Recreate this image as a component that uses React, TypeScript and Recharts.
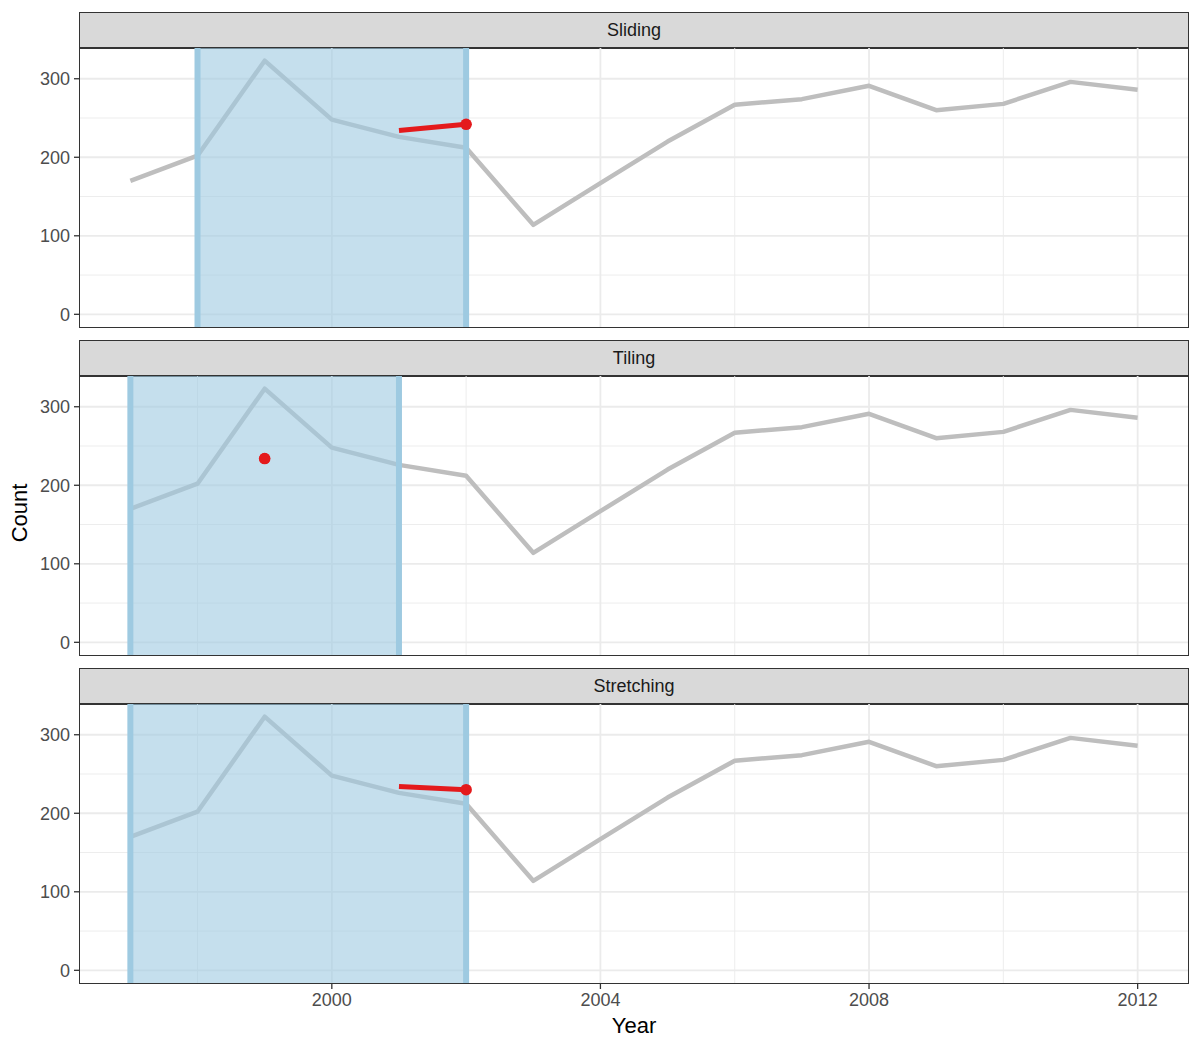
import React from 'react';
import { ComposedChart, Line, XAxis, YAxis, ReferenceLine, ReferenceArea } from 'recharts';

// Yearly counts (same baseline series in every facet)
const years = [1997, 1998, 1999, 2000, 2001, 2002, 2003, 2004, 2005, 2006, 2007, 2008, 2009, 2010, 2011, 2012];
const counts = [170, 202, 323, 248, 226, 212, 114, 167, 220, 267, 274, 291, 260, 268, 296, 286];

// Facet names and the highlighted window for each
const facetNames = ['Sliding', 'Tiling', 'Stretching'];
const windowStart = [1998, 1997, 1997];
const windowEnd = [2002, 2001, 2002];

// Red forecast segments and end points per facet
const slidingRedYears = [2001, 2002];
const slidingRedCounts = [234, 242];
const tilingRedYears = [1999];
const tilingRedCounts = [234];
const stretchingRedYears = [2001, 2002];
const stretchingRedCounts = [234, 230];

// Axis ticks and grid breaks
const xMajor = [2000, 2004, 2008, 2012];
const xMinor = [1998, 2002, 2006, 2010];
const yMajor = [0, 100, 200, 300];
const yMinor = [50, 150, 250];

const baseData = years.map((year, i) => ({ year, count: counts[i] }));
const toRows = (ys: number[], cs: number[]) => ys.map((year, i) => ({ year, count: cs[i] }));
const redRows = [
  toRows(slidingRedYears, slidingRedCounts),
  toRows(tilingRedYears, tilingRedCounts),
  toRows(stretchingRedYears, stretchingRedCounts),
];

// ggplot-style 5% expansion
const xMin = Math.min(...years);
const xMax = Math.max(...years);
const xPad = (xMax - xMin) * 0.05;
const yLo = 0;
const yHi = Math.max(...counts);
const yPad = (yHi - yLo) * 0.05;
const xDomain: [number, number] = [xMin - xPad, xMax + xPad];
const yDomain: [number, number] = [yLo - yPad, yHi + yPad];

const FONT = '"Liberation Sans", Arial, Helvetica, sans-serif';
const GRAY = '#bebebe';
const RED = '#e41a1c';
const BLUE = '#9ecae1';
const GRID = '#ebebeb';

const PANEL_LEFT = 80;
const PANEL_W = 1108;
const PANEL_H = 279;
const STRIP_H = 36;
const FIRST_TOP = 48;
const STEP = 328;
const X_AXIS_H = 44;

function Facet({ index }: { index: number }) {
  const last = index === facetNames.length - 1;
  const top = FIRST_TOP + STEP * index;
  const red = redRows[index];
  const endPoint = red.slice(-1);
  return (
    <>
      <div
        style={{
          position: 'absolute',
          left: PANEL_LEFT - 1,
          top: top - STRIP_H,
          width: PANEL_W + 2,
          height: STRIP_H + 1,
          boxSizing: 'border-box',
          background: '#d9d9d9',
          border: '1.3px solid #333333',
          display: 'flex',
          alignItems: 'center',
          justifyContent: 'center',
          fontFamily: FONT,
          fontSize: 18,
          color: '#1a1a1a',
        }}
      >
        {facetNames[index]}
      </div>
      <div style={{ position: 'absolute', left: 0, top }}>
        <ComposedChart
          width={1200}
          height={PANEL_H + (last ? X_AXIS_H : 0)}
          data={baseData}
          margin={{ top: 0, right: 1200 - PANEL_LEFT - PANEL_W, bottom: 0, left: 0 }}
          style={{ fontFamily: FONT }}
        >
          <XAxis
            dataKey="year"
            type="number"
            domain={xDomain}
            ticks={xMajor}
            allowDataOverflow
            hide={!last}
            height={X_AXIS_H}
            axisLine={false}
            tickLine={{ stroke: '#333333', strokeWidth: 1.3 }}
            tickSize={6}
            tickMargin={4}
            tick={{ fill: '#4d4d4d', fontSize: 18, fontFamily: FONT }}
          />
          <YAxis
            type="number"
            domain={yDomain}
            ticks={yMajor}
            allowDataOverflow
            width={PANEL_LEFT}
            axisLine={false}
            tickLine={{ stroke: '#333333', strokeWidth: 1.3 }}
            tickSize={6}
            tickMargin={4}
            tick={{ fill: '#4d4d4d', fontSize: 18, fontFamily: FONT }}
          />
          {yMinor.map((v) => (
            <ReferenceLine key={'ym' + v} y={v} stroke={GRID} strokeWidth={0.9} zIndex={-100} />
          ))}
          {xMinor.map((v) => (
            <ReferenceLine key={'xm' + v} x={v} stroke={GRID} strokeWidth={0.9} zIndex={-100} />
          ))}
          {yMajor.map((v) => (
            <ReferenceLine key={'yM' + v} y={v} stroke={GRID} strokeWidth={1.8} zIndex={-90} />
          ))}
          {xMajor.map((v) => (
            <ReferenceLine key={'xM' + v} x={v} stroke={GRID} strokeWidth={1.8} zIndex={-90} />
          ))}
          <Line
            dataKey="count"
            stroke={GRAY}
            strokeWidth={4.5}
            strokeLinejoin="round"
            dot={false}
            activeDot={false}
            isAnimationActive={false}
            zIndex={100}
          />
          <ReferenceArea
            x1={windowStart[index]}
            x2={windowEnd[index]}
            fill={BLUE}
            fillOpacity={0.6}
            stroke="none"
            zIndex={200}
          />
          <ReferenceLine x={windowStart[index]} stroke={BLUE} strokeWidth={6} zIndex={300} />
          <ReferenceLine x={windowEnd[index]} stroke={BLUE} strokeWidth={6} zIndex={300} />
          <Line
            data={red}
            dataKey="count"
            stroke={RED}
            strokeWidth={5}
            dot={false}
            activeDot={false}
            isAnimationActive={false}
            zIndex={400}
          />
          <Line
            data={endPoint}
            dataKey="count"
            stroke="none"
            dot={{ r: 5.8, fill: RED, stroke: 'none' }}
            activeDot={false}
            isAnimationActive={false}
            zIndex={450}
          />
        </ComposedChart>
      </div>
      <div
        style={{
          position: 'absolute',
          left: PANEL_LEFT - 1,
          top: top - 1,
          width: PANEL_W + 2,
          height: PANEL_H + 2,
          boxSizing: 'border-box',
          border: '1.3px solid #333333',
          pointerEvents: 'none',
        }}
      />
    </>
  );
}

export default function App() {
  return (
    <div
      style={{
        position: 'absolute',
        left: 0,
        top: 0,
        width: 1200,
        height: 1050,
        background: '#ffffff',
        fontFamily: FONT,
        overflow: 'hidden',
      }}
    >
      {facetNames.map((_, i) => (
        <Facet key={i} index={i} />
      ))}
      <div
        style={{
          position: 'absolute',
          left: PANEL_LEFT,
          width: PANEL_W,
          top: 1013,
          textAlign: 'center',
          fontSize: 22,
          color: '#000000',
        }}
      >
        Year
      </div>
      <div
        style={{
          position: 'absolute',
          left: 20,
          top: 513,
          transform: 'translate(-50%, -50%) rotate(-90deg)',
          fontSize: 22,
          color: '#000000',
          whiteSpace: 'nowrap',
        }}
      >
        Count
      </div>
    </div>
  );
}
